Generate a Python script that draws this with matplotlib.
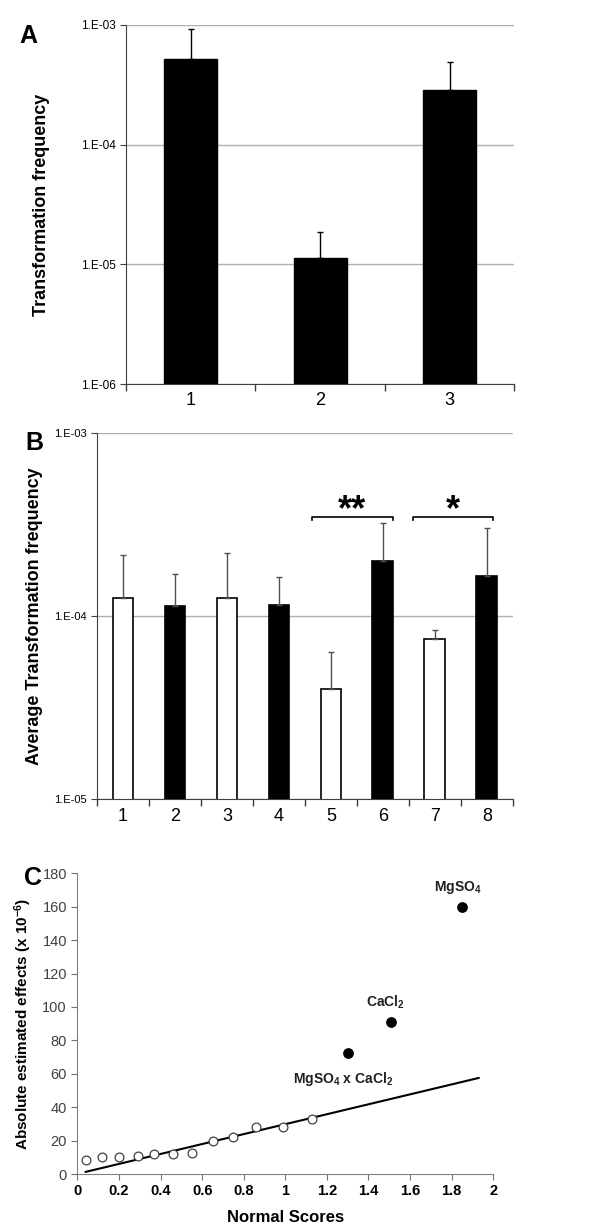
import math

import matplotlib

matplotlib.use("Agg")
import matplotlib.pyplot as plt
from matplotlib.ticker import FixedLocator, NullLocator

plt.rcParams["font.family"] = ["Liberation Sans", "DejaVu Sans"]
plt.rcParams["mathtext.default"] = "regular"

# panel A
a_labels = ["1", "2", "3"]
a_means = [5.2e-4, 1.12e-5, 2.85e-4]
a_err = [4.1e-4, 0.74e-5, 2.1e-4]

# panel B
b_labels = ["1", "2", "3", "4", "5", "6", "7", "8"]
b_means = [1.26e-4, 1.14e-4, 1.25e-4, 1.15e-4, 3.98e-5, 2.0e-4, 7.46e-5, 1.65e-4]
b_err = [0.88e-4, 0.55e-4, 0.96e-4, 0.48e-4, 2.41e-5, 1.2e-4, 0.89e-5, 1.37e-4]
b_colors = ["white", "black"] * 4

# panel C
c_open_x = [0.04, 0.12, 0.20, 0.29, 0.37, 0.46, 0.55, 0.65, 0.75, 0.86, 0.99, 1.13]
c_open_y = [8.4, 10.4, 10.4, 11.0, 11.8, 12.0, 12.4, 19.8, 22.4, 28.1, 28.3, 32.9]
c_sig_x = [1.30, 1.51, 1.85]
c_sig_y = [72.2, 90.8, 159.6]
c_sig_names = ["MgSO$_4$ x CaCl$_2$", "CaCl$_2$", "MgSO$_4$"]
c_fit_x = [0.04, 1.93]
c_fit_y = [1.3, 57.5]


def log_decades(ax, decades):
    ax.set_yscale("log")
    ax.set_ylim(decades[0], decades[-1])
    ax.yaxis.set_major_locator(FixedLocator(decades))
    ax.yaxis.set_minor_locator(NullLocator())
    ax.set_yticklabels([f"1.E-{-round(math.log10(d)):02d}" for d in decades])
    ax.grid(axis="y", color="#b0b0b0", linewidth=1.0)
    ax.set_axisbelow(True)
    for s in ("top", "right"):
        ax.spines[s].set_visible(False)
    ax.spines["left"].set_color("#404040")
    ax.spines["bottom"].set_color("#404040")


def category_ticks(ax, labels):
    n = len(labels)
    ax.set_xlim(-0.5, n - 0.5)
    ax.set_xticks([i - 0.5 for i in range(n + 1)], labels=[""] * (n + 1))
    ax.set_xticks(range(n), labels=labels, minor=True)
    ax.tick_params(axis="x", which="major", length=5, width=1, color="#404040")
    ax.tick_params(axis="x", which="minor", length=0, labelsize=13, pad=6)


fig = plt.figure(figsize=(6, 12.3), dpi=100)

# ---- A ----
ax_a = fig.add_axes([0.21, 0.6878, 0.647, 0.2919])
x_a = range(len(a_means))
ax_a.bar(x_a, a_means, width=0.41, color="black", edgecolor="black", zorder=2)
ax_a.errorbar(x_a, a_means, yerr=[[0] * 3, a_err], fmt="none", ecolor="black",
              elinewidth=1, capsize=2, capthick=1, zorder=3)
log_decades(ax_a, [1e-6, 1e-5, 1e-4, 1e-3])
category_ticks(ax_a, a_labels)
ax_a.tick_params(axis="y", labelsize=8.5, length=4, color="#404040")
ax_a.set_ylabel("Transformation frequency", fontsize=13, fontweight="bold", labelpad=22)
fig.text(0.047, 0.971, "A", fontsize=18, fontweight="bold", ha="center", va="center")

# ---- B ----
ax_b = fig.add_axes([0.1617, 0.3502, 0.693, 0.298])
x_b = range(len(b_means))
ax_b.bar(x_b, b_means, width=0.4, color=b_colors, edgecolor="black", linewidth=1.2, zorder=2)
ax_b.errorbar(x_b, b_means, yerr=[[0] * 8, b_err], fmt="none", ecolor="#505050",
              elinewidth=1, capsize=2, capthick=1, zorder=3)
log_decades(ax_b, [1e-5, 1e-4, 1e-3])
category_ticks(ax_b, b_labels)
ax_b.tick_params(axis="y", labelsize=8, length=4, color="#404040")
ax_b.set_ylabel("Average Transformation frequency", fontsize=13, fontweight="bold", labelpad=8)
for (x0, x1, stars) in [(3.634, 5.189, "**"), (5.574, 7.11, "*")]:
    ax_b.plot([x0, x0, x1, x1], [3.34e-4, 3.48e-4, 3.48e-4, 3.34e-4], color="black",
              linewidth=1.2, clip_on=False)
    ax_b.text((x0 + x1) / 2, 3.75e-4, stars, fontsize=26, fontweight="bold",
              ha="center", va="center")
fig.text(0.057, 0.64, "B", fontsize=18, fontweight="bold", ha="center", va="center")

# ---- C ----
ax_c = fig.add_axes([0.129, 0.0455, 0.693, 0.2445])
ax_c.plot(c_fit_x, c_fit_y, color="black", linewidth=1.5, zorder=2)
ax_c.scatter(c_open_x, c_open_y, s=40, facecolors="white", edgecolors="#404040",
             linewidths=0.9, zorder=3)
ax_c.scatter(c_sig_x, c_sig_y, s=45, color="black", zorder=3)
offsets = [(-3, -12, "top"), (-4, 8, "bottom"), (-3, 8, "bottom")]
for x, y, name, (dx, dy, va) in zip(c_sig_x, c_sig_y, c_sig_names, offsets):
    ax_c.annotate(name, (x, y), xytext=(dx, dy), textcoords="offset points",
                  ha="center", va=va, fontsize=10, fontweight="bold", color="#202020")
ax_c.set_xlim(0, 2)
ax_c.set_ylim(0, 180)
ax_c.set_xticks([i / 5 for i in range(11)], labels=[f"{i / 5:g}" for i in range(11)])
ax_c.set_yticks(range(0, 181, 20))
ax_c.tick_params(axis="x", labelsize=10.5, length=4, color="#707070")
ax_c.tick_params(axis="y", labelsize=10.5, length=4, color="#707070", labelcolor="#404040")
for lab in ax_c.get_xticklabels():
    lab.set_fontweight("bold")
for s in ("top", "right"):
    ax_c.spines[s].set_visible(False)
ax_c.spines["left"].set_color("#808080")
ax_c.spines["bottom"].set_color("#808080")
ax_c.set_xlabel("Normal Scores", fontsize=12, fontweight="bold", labelpad=8)
ax_c.set_ylabel("Absolute estimated effects (x 10$^{-6}$)", fontsize=11, fontweight="bold",
                labelpad=6)
fig.text(0.055, 0.286, "C", fontsize=18, fontweight="bold", ha="center", va="center")

fig.savefig("out.png", dpi=100)
